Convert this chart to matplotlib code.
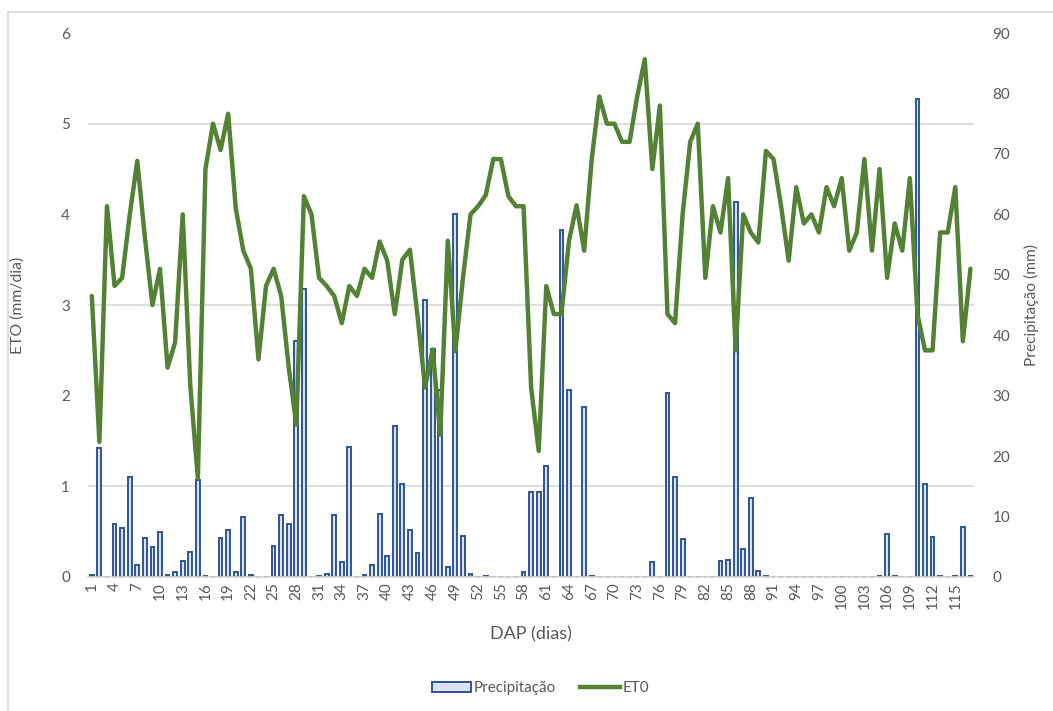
import numpy as np
import matplotlib
matplotlib.use('Agg')
import matplotlib.pyplot as plt
from matplotlib.patches import Patch
from matplotlib.lines import Line2D

plt.rcParams['font.family'] = ['Lato', 'DejaVu Sans']

# dias após o plantio
dap = np.arange(1, 118)

# ET0 (mm/dia)
eto = [3.10, 1.49, 4.09, 3.21, 3.30, 3.99, 4.59, 3.75, 3.00, 3.40,
       2.31, 2.59, 4.00, 2.11, 1.09, 4.50, 5.00, 4.71, 5.11, 4.07,
       3.60, 3.40, 2.40, 3.21, 3.40, 3.10, 2.31, 1.68, 4.20, 4.00,
       3.30, 3.21, 3.10, 2.80, 3.21, 3.10, 3.40, 3.30, 3.70, 3.49,
       2.90, 3.50, 3.61, 2.88, 2.09, 2.51, 1.57, 3.71, 2.49, 3.30,
       4.00, 4.09, 4.21, 4.61, 4.61, 4.20, 4.09, 4.09, 2.09, 1.39,
       3.21, 2.90, 2.90, 3.71, 4.10, 3.60, 4.61, 5.30, 5.00, 5.00,
       4.80, 4.80, 5.30, 5.71, 4.50, 5.20, 2.90, 2.80, 4.00, 4.80,
       5.00, 3.30, 4.09, 3.80, 4.40, 2.50, 4.00, 3.80, 3.69, 4.70,
       4.61, 4.09, 3.49, 4.30, 3.90, 4.00, 3.80, 4.30, 4.09, 4.40,
       3.60, 3.80, 4.61, 3.60, 4.50, 3.30, 3.90, 3.60, 4.40, 2.90,
       2.50, 2.50, 3.80, 3.80, 4.30, 2.60, 3.40]

# precipitação (mm)
prec = [0.4, 21.3, 0, 8.8, 8.1, 16.6, 2.0, 6.4, 4.9, 7.4,
        0.3, 0.8, 2.6, 4.2, 16.1, 0.2, 0, 6.4, 7.7, 0.8,
        10.0, 0.3, 0, 0, 5.1, 10.3, 8.8, 39.0, 47.6, 0,
        0.2, 0.5, 10.3, 2.5, 21.5, 0, 0.3, 1.9, 10.4, 3.4,
        24.9, 15.4, 7.8, 4.0, 45.8, 37.7, 30.9, 1.6, 60.0, 6.7,
        0.5, 0, 0.2, 0, 0, 0, 0, 0.9, 14.0, 14.0,
        18.3, 0, 57.4, 31.0, 0, 28.1, 0.2, 0, 0, 0,
        0, 0, 0, 0, 2.5, 0, 30.5, 16.6, 6.3, 0,
        0, 0, 0, 2.6, 2.8, 62.0, 4.6, 13.1, 1.0, 0.2,
        0, 0, 0, 0, 0, 0, 0, 0, 0, 0,
        0, 0, 0, 0, 0.2, 7.1, 0.2, 0, 0, 79.1,
        15.4, 6.6, 0.2, 0, 0.2, 8.2, 0.2]

cinza = '#595959'
verde = '#548235'
azul = '#2f5597'
azul_claro = '#dae3f3'

fig = plt.figure(figsize=(10.53, 7.11), dpi=100)
ax = fig.add_axes([0.0836, 0.1885, 0.8416, 0.765])
ax2 = ax.twinx()

# barras no eixo direito, linha no esquerdo por cima
ax2.bar(dap, prec, width=0.5, color=azul_claro, edgecolor=azul, linewidth=1.4, zorder=3)
ax2.set_ylim(0, 90)
ax2.set_yticks(np.arange(0, 91, 10))
ax2.set_yticks(np.arange(0, 91, 15), minor=True)
ax2.grid(which='minor', axis='y', color='#d9d9d9', linewidth=1.2, zorder=0)
ax2.tick_params(axis='y', which='both', length=0, labelsize=11, labelcolor=cinza, pad=13)
ax2.set_ylabel('Precipitação (mm)', color=cinza, fontsize=11.2, rotation=90, labelpad=10)

ax.set_zorder(ax2.get_zorder() + 1)
ax.patch.set_visible(False)
ax.plot(dap, eto, color=verde, linewidth=3.2, solid_joinstyle='round', solid_capstyle='round', zorder=4)
ax.set_ylim(0, 6)
ax.set_yticks(np.arange(0, 7, 1))
ax.tick_params(axis='y', length=0, labelsize=11, labelcolor=cinza, pad=13)
ax.set_ylabel('ETO (mm/dia)', color=cinza, fontsize=11.3, labelpad=26)

ax.set_xlim(0.5, 117.5)
ax.set_xticks(dap[::3])
ax.set_xticklabels([str(d) for d in dap[::3]], rotation=90)
ax.tick_params(axis='x', length=0, labelsize=11, labelcolor=cinza, pad=4)
ax.set_xlabel('DAP (dias)', color=cinza, fontsize=13, labelpad=12)

for a in (ax, ax2):
    for s in ('top', 'left', 'right'):
        a.spines[s].set_visible(False)
    a.spines['bottom'].set_color('#d9d9d9')
    a.spines['bottom'].set_linewidth(1.2)

handles = [Patch(facecolor=azul_claro, edgecolor=azul, linewidth=1.4),
           Line2D([0], [0], color=verde, linewidth=3.2)]
fig.legend(handles, ['Precipitação', 'ET0'], loc='center', bbox_to_anchor=(0.513, 0.032),
           ncol=2, frameon=False, fontsize=11, labelcolor=cinza,
           handlelength=2.6, handleheight=0.7, handletextpad=0.15, columnspacing=1.6)

# moldura do gráfico
fig.add_artist(Line2D([8/1053, 1], [1 - 12/711, 1 - 12/711], color='#d9d9d9', linewidth=1.2))
fig.add_artist(Line2D([8/1053, 8/1053], [0, 1 - 12/711], color='#d9d9d9', linewidth=1.2))

plt.savefig('out.png', dpi=100)
